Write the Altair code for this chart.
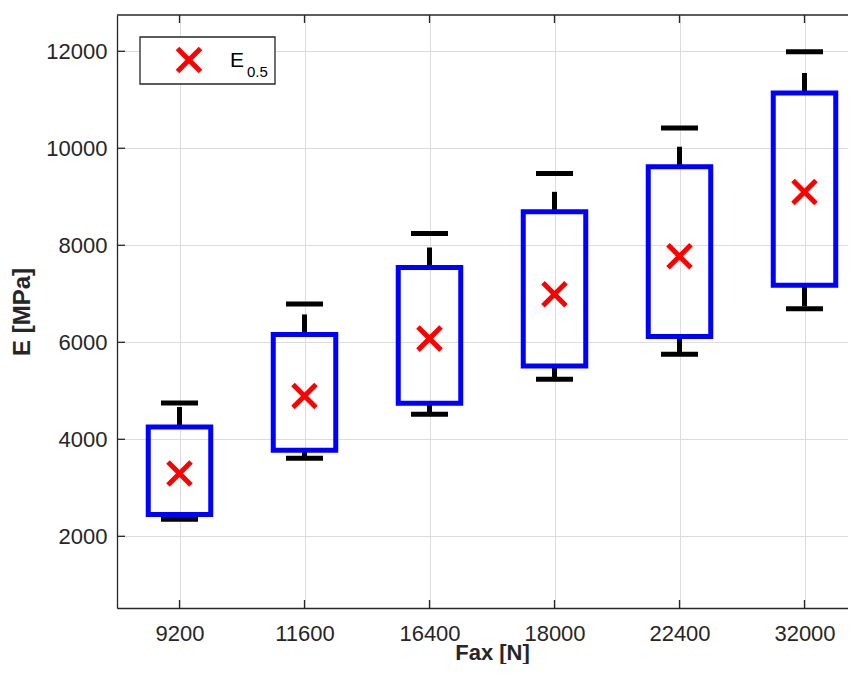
import altair as alt
import pandas as pd

# ---- data ----
fax = ["9200", "11600", "16400", "18000", "22400", "32000"]
lower_whisker = [2350, 3610, 4515, 5240, 5755, 6690]
q1 = [2450, 3775, 4742, 5510, 6122, 7175]
median = [3295, 4893, 6076, 6990, 7773, 9100]
q3 = [4254, 6162, 7542, 8690, 9620, 11140]
upper_whisker = [4750, 6790, 8243, 9480, 10420, 11990]
y_ticks = [2000, 4000, 6000, 8000, 10000, 12000]
legend_label = ["E"]
legend_sub = ["0.5"]

positions = list(range(1, len(fax) + 1))
df = pd.DataFrame({
    "fax": fax, "pos": positions, "lo": lower_whisker, "q1": q1,
    "median": median, "q3": q3, "hi": upper_whisker,
})
tick_df = pd.DataFrame({"v": y_ticks})
one = pd.DataFrame({"label": legend_label, "sub": legend_sub})

W, H = 731, 593
DARK = "#262626"
FONT = "Liberation Sans"

xscale = alt.Scale(domain=[0.5, 0.5 + W / 125], nice=False, zero=False)
yscale = alt.Scale(domain=[522, 12748], nice=False, zero=False)

label_expr = "[" + ",".join("'" + f + "'" for f in fax) + "][datum.value - 1]"

x_axis = alt.Axis(
    values=positions, labelExpr=label_expr, title="Fax [N]", grid=True,
    gridColor="#dcdcdc", gridWidth=1, ticks=False, tickSize=0,
    domainColor=DARK, domainWidth=1.3, labelFont=FONT, labelFontSize=22,
    labelColor=DARK, labelPadding=15, labelBaseline="top",
    titleFont=FONT, titleFontSize=22, titleFontWeight="bold", titleColor=DARK,
    titleBaseline="alphabetic", titleY=51, titleX=375, titleAlign="center",
)
y_axis = alt.Axis(
    values=y_ticks, format="d", title="E [MPa]", grid=True,
    gridColor="#dcdcdc", gridWidth=1, ticks=False, tickSize=0,
    domainColor=DARK, domainWidth=1.3, labelFont=FONT, labelFontSize=22,
    labelColor=DARK, labelPadding=10,
    titleFont=FONT, titleFontSize=24, titleFontWeight="bold", titleColor=DARK,
    titleX=-95, titleBaseline="middle", titleAlign="center", titleAngle=270,
)

X = alt.X("pos:Q", scale=xscale, axis=x_axis)

base = alt.Chart(df)

upper = base.mark_rule(color="black", strokeWidth=5, strokeDash=[20, 20]).encode(
    x=X, y=alt.Y("q3:Q", scale=yscale, axis=y_axis), y2="hi:Q")
lower = base.mark_rule(color="black", strokeWidth=5, strokeDash=[21, 19]).encode(
    x=X, y=alt.Y("q1:Q", scale=yscale, axis=y_axis), y2="lo:Q")
cap_hi = base.mark_tick(orient="horizontal", size=37, thickness=5, color="black", opacity=1).encode(
    x=X, y=alt.Y("hi:Q", scale=yscale, axis=y_axis))
cap_lo = base.mark_tick(orient="horizontal", size=37, thickness=5, color="black", opacity=1).encode(
    x=X, y=alt.Y("lo:Q", scale=yscale, axis=y_axis))
box = base.transform_calculate(xl="datum.pos - 0.25", xr="datum.pos + 0.25").mark_rect(
    fill="white", fillOpacity=0, stroke="#0000ff", strokeWidth=5).encode(
    x=alt.X("xl:Q", scale=xscale, axis=x_axis), x2="xr:Q",
    y=alt.Y("q1:Q", scale=yscale, axis=y_axis), y2="q3:Q")
XSHAPE = "M-1,-1L1,1M-1,1L1,-1"
med = base.mark_point(shape=XSHAPE, size=530, strokeWidth=5, color="#ff0000",
                      filled=False, opacity=1).encode(
    x=X, y=alt.Y("median:Q", scale=yscale, axis=y_axis))

# inward ticks and top border (axis decoration)
yticks = alt.Chart(tick_df).mark_rule(color=DARK, strokeWidth=1.3).encode(
    y=alt.Y("v:Q", scale=yscale, axis=y_axis), x=alt.value(0), x2=alt.value(8))
xticks_b = base.mark_rule(color=DARK, strokeWidth=1.3).encode(
    x=X, y=alt.value(H), y2=alt.value(H - 8))
xticks_t = base.mark_rule(color=DARK, strokeWidth=1.3).encode(
    x=X, y=alt.value(0), y2=alt.value(8))
top_border = alt.Chart(one).mark_rule(color=DARK, strokeWidth=1.3).encode(
    x=alt.value(0), x2=alt.value(W), y=alt.value(0))

# legend
leg_box = alt.Chart(one).mark_rect(fill="white", stroke=DARK, strokeWidth=1.3).encode(
    x=alt.value(23), x2=alt.value(158), y=alt.value(22), y2=alt.value(69))
leg_mark = alt.Chart(one).mark_point(shape=XSHAPE, size=530, strokeWidth=5, color="#ff0000",
                                     filled=False, opacity=1).encode(
    x=alt.value(72), y=alt.value(45))
leg_text = alt.Chart(one).mark_text(align="left", baseline="alphabetic", font=FONT,
                                    fontSize=21, color="black").encode(
    x=alt.value(113), y=alt.value(52), text="label:N")
leg_sub = alt.Chart(one).mark_text(align="left", baseline="alphabetic", font=FONT,
                                   fontSize=15, color="black").encode(
    x=alt.value(130), y=alt.value(62), text="sub:N")

chart = alt.layer(
    upper, lower, cap_hi, cap_lo, box, med, yticks, xticks_b, xticks_t, top_border,
    leg_box, leg_mark, leg_text, leg_sub,
).properties(
    width=W, height=H,
    autosize=alt.AutoSizeParams(type="none"),
    padding={"left": 109, "top": 7, "right": 0, "bottom": 56},
    background="white",
).configure_view(stroke="transparent")

chart.save("out.html", embed_options={"renderer": "svg", "actions": False})
